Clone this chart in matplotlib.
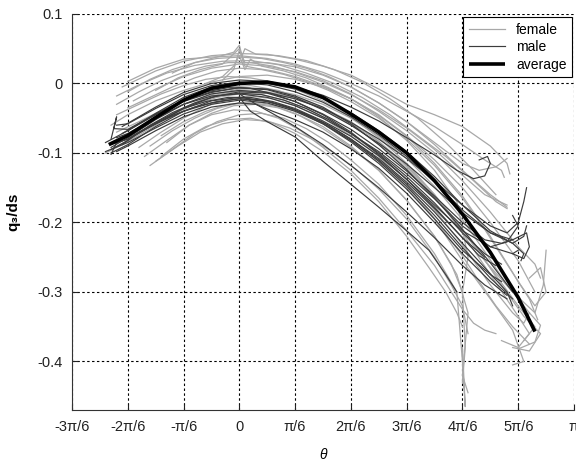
import matplotlib.pyplot as plt
import numpy as np

plt.rcParams['font.family'] = ['Liberation Sans', 'DejaVu Sans']

avg_theta = [-2.34, -2.0, -1.5, -1.0, -0.5, 0.0, 0.5, 1.0, 1.5, 2.0, 2.5, 3.0, 3.5, 4.0, 4.5, 5.0, 5.3]
avg_q = [-0.088, -0.075, -0.049, -0.024, -0.007, 0.000, 0.002, -0.005, -0.020, -0.044,
         -0.070, -0.100, -0.140, -0.188, -0.243, -0.308, -0.357]

female_theta = [
    [-2.1, -1.5, -1.0, -0.5, 0.0, 0.5, 1.0, 1.5, 2.0, 2.5, 3.0, 3.5, 4.0, 4.5, 4.8, 4.85],
    [-2.0, -1.5, -1.0, -0.5, 0.0, 0.5, 1.0, 1.5, 2.0, 2.5, 3.0, 3.5, 4.0, 4.4, 4.7, 4.75],
    [-2.2, -1.8, -1.3, -0.8, -0.3, 0.2, 0.7, 1.2, 1.7, 2.2, 2.7, 3.2, 3.7, 4.2, 4.6, 4.8],
    [-1.9, -1.5, -1.0, -0.5, 0.0, 0.5, 1.0, 1.5, 2.0, 2.5, 3.0, 3.5, 4.0, 4.5, 5.0, 5.3, 5.4],
    [-1.2, -0.8, -0.4, -0.1, 0.0, 0.05, 0.1, 0.3, 0.7, 1.2, 1.7, 2.2, 2.7, 3.2, 3.7, 4.2, 4.6],
    [-2.3, -2.0, -1.5, -1.0, -0.5, 0.0, 0.5, 1.0, 1.5, 2.0, 2.5, 3.0, 3.5, 4.0, 4.5, 5.0, 5.3, 5.1],
    [-2.2, -1.8, -1.3, -0.8, -0.3, 0.2, 0.7, 1.2, 1.7, 2.2, 2.7, 3.2, 3.7, 4.2, 4.7, 5.1, 5.4, 5.2, 4.9],
    [-1.6, -1.2, -0.8, -0.4, 0.0, 0.4, 0.8, 1.2, 1.6, 2.0, 2.5, 3.0, 3.5, 3.9, 4.0, 4.05, 4.0],
    [-1.7, -1.3, -0.9, -0.5, -0.1, 0.3, 0.7, 1.1, 1.5, 2.0, 2.5, 3.0, 3.5, 3.9, 4.1, 4.0, 4.1],
    [-1.8, -1.4, -1.0, -0.6, -0.2, 0.2, 0.6, 1.0, 1.5, 2.0, 2.5, 3.0, 3.5, 4.0, 4.5, 4.9, 5.1, 4.9],
    [-2.3, -2.0, -1.5, -1.0, -0.5, 0.0, 0.5, 1.0, 1.5, 2.0, 2.5, 3.0, 3.5, 4.0, 4.5, 5.0, 5.3],
    [-2.4, -2.1, -1.6, -1.1, -0.6, -0.1, 0.4, 0.9, 1.4, 1.9, 2.4, 2.9, 3.4, 3.9, 4.4, 4.9, 5.3, 5.45, 5.5],
    [-1.3, -0.9, -0.5, -0.1, 0.3, 0.7, 1.1, 1.5, 2.0, 2.5, 3.0, 3.5, 3.8, 4.0, 4.2, 4.4, 4.6],
    [-1.5, -1.1, -0.7, -0.3, 0.0, 0.1, 0.5, 1.0, 1.5, 2.0, 2.5, 3.0, 3.5, 4.0, 4.3, 4.6, 4.8],
    [-2.2, -1.8, -1.4, -1.0, -0.6, -0.2, 0.2, 0.6, 1.0, 1.5, 2.0, 2.5, 3.0, 3.5, 4.0, 4.5, 5.0, 5.2, 5.0, 4.7],
    [-1.4, -1.0, -0.6, -0.2, 0.2, 0.6, 1.0, 1.5, 2.0, 2.5, 3.0, 3.4, 3.7, 3.9, 4.0],
    [-2.0, -1.6, -1.2, -0.8, -0.4, 0.0, 0.4, 0.8, 1.2, 1.6, 2.0, 2.5, 3.0, 3.5, 4.0, 4.4, 4.8, 5.2, 5.35],
    [-0.6, -0.3, -0.1, 0.0, 0.1, 0.2, 0.4, 0.8, 1.2, 1.6, 2.0, 2.5, 3.0, 3.5, 3.9, 4.1, 4.0],
    [-2.0, -1.6, -1.2, -0.8, -0.4, 0.0, 0.4, 0.8, 1.2, 1.6, 2.0, 2.5, 3.0, 3.5, 4.0, 4.5, 4.9, 5.1, 5.2],
    [-1.6, -1.2, -0.8, -0.4, 0.0, 0.4, 0.8, 1.2, 1.6, 2.0, 2.5, 3.0, 3.5, 4.0, 4.3, 4.6, 4.9, 5.2],
    [-2.2, -1.8, -1.4, -1.0, -0.6, -0.2, 0.2, 0.6, 1.0, 1.5, 2.0, 2.5, 3.0, 3.5, 4.0, 4.4, 4.8],
    [-1.4, -1.0, -0.6, -0.2, 0.2, 0.6, 1.0, 1.5, 2.0, 2.5, 3.0, 3.5, 3.8, 4.0, 4.05, 4.0],
    [-0.3, -0.1, 0.0, 0.1, 0.3, 0.6, 1.0, 1.5, 2.0, 2.5, 3.0, 3.5, 4.0, 4.5, 5.0, 5.3, 5.5, 5.4, 5.2],
    [-2.3, -2.0, -1.5, -1.0, -0.5, 0.0, 0.5, 1.0, 1.5, 2.0, 2.5, 3.0, 3.5, 4.0, 4.4, 4.8, 5.2, 5.4, 5.3, 5.0],
    [-1.5, -1.1, -0.7, -0.3, 0.1, 0.5, 0.9, 1.3, 1.7, 2.1, 2.5, 3.0, 3.5, 3.8, 4.0, 4.1],
    [-2.0, -1.6, -1.2, -0.8, -0.4, 0.0, 0.4, 0.8, 1.2, 1.6, 2.0, 2.5, 3.0, 3.5, 4.0, 4.5, 4.8],
]
female_q = [
    [-0.005, 0.018, 0.032, 0.040, 0.043, 0.042, 0.035, 0.025, 0.012, -0.008, -0.030, -0.045, -0.062, -0.090, -0.115, -0.130],
    [0.003, 0.022, 0.035, 0.038, 0.040, 0.036, 0.028, 0.016, 0.000, -0.018, -0.040, -0.062, -0.088, -0.110, -0.125, -0.135],
    [-0.018, -0.002, 0.015, 0.026, 0.032, 0.033, 0.027, 0.015, 0.000, -0.020, -0.045, -0.075, -0.105, -0.140, -0.170, -0.180],
    [-0.025, -0.008, 0.010, 0.022, 0.028, 0.025, 0.017, 0.004, -0.015, -0.040, -0.068, -0.100, -0.140, -0.185, -0.235, -0.260, -0.280],
    [0.015, 0.030, 0.038, 0.045, 0.055, 0.040, 0.050, 0.042, 0.040, 0.033, 0.020, 0.002, -0.022, -0.050, -0.085, -0.125, -0.160],
    [-0.095, -0.082, -0.058, -0.035, -0.018, -0.010, -0.012, -0.020, -0.035, -0.055, -0.083, -0.118, -0.160, -0.210, -0.265, -0.320, -0.350, -0.370],
    [-0.070, -0.055, -0.035, -0.018, -0.006, -0.003, -0.010, -0.025, -0.045, -0.070, -0.100, -0.138, -0.180, -0.230, -0.290, -0.335, -0.360, -0.385, -0.380],
    [-0.118, -0.095, -0.072, -0.055, -0.045, -0.043, -0.050, -0.065, -0.085, -0.110, -0.145, -0.190, -0.245, -0.300, -0.400, -0.465, -0.380],
    [-0.105, -0.082, -0.060, -0.043, -0.032, -0.030, -0.035, -0.047, -0.065, -0.092, -0.125, -0.168, -0.220, -0.275, -0.330, -0.420, -0.445],
    [-0.092, -0.070, -0.050, -0.033, -0.022, -0.018, -0.022, -0.032, -0.050, -0.075, -0.105, -0.145, -0.195, -0.255, -0.310, -0.355, -0.400, -0.405],
    [-0.060, -0.045, -0.025, -0.010, 0.002, 0.010, 0.012, 0.006, -0.005, -0.022, -0.045, -0.075, -0.110, -0.150, -0.200, -0.255, -0.300],
    [-0.100, -0.088, -0.065, -0.040, -0.022, -0.012, -0.012, -0.020, -0.033, -0.052, -0.078, -0.112, -0.152, -0.200, -0.255, -0.300, -0.330, -0.290, -0.240],
    [-0.085, -0.060, -0.045, -0.038, -0.040, -0.050, -0.068, -0.092, -0.125, -0.165, -0.212, -0.262, -0.300, -0.325, -0.345, -0.355, -0.360],
    [-0.010, 0.008, 0.020, 0.028, 0.050, 0.030, 0.030, 0.024, 0.012, -0.005, -0.028, -0.055, -0.085, -0.115, -0.125, -0.120, -0.108],
    [-0.045, -0.030, -0.015, -0.003, 0.006, 0.010, 0.008, 0.002, -0.008, -0.025, -0.048, -0.078, -0.115, -0.160, -0.215, -0.275, -0.335, -0.360, -0.380, -0.370],
    [-0.105, -0.080, -0.062, -0.052, -0.050, -0.057, -0.072, -0.098, -0.130, -0.170, -0.220, -0.265, -0.300, -0.330, -0.350],
    [-0.035, -0.020, -0.005, 0.008, 0.018, 0.022, 0.020, 0.013, 0.003, -0.010, -0.026, -0.050, -0.080, -0.118, -0.165, -0.210, -0.260, -0.310, -0.340],
    [0.000, 0.010, 0.025, 0.040, 0.020, 0.035, 0.025, 0.018, 0.008, -0.006, -0.022, -0.048, -0.082, -0.125, -0.170, -0.250, -0.300],
    [-0.078, -0.062, -0.045, -0.030, -0.020, -0.015, -0.016, -0.024, -0.036, -0.052, -0.072, -0.102, -0.138, -0.182, -0.232, -0.290, -0.330, -0.345, -0.330],
    [-0.090, -0.068, -0.050, -0.036, -0.028, -0.028, -0.034, -0.046, -0.062, -0.082, -0.112, -0.150, -0.195, -0.248, -0.285, -0.320, -0.350, -0.375],
    [-0.030, -0.012, 0.004, 0.016, 0.025, 0.030, 0.030, 0.025, 0.016, 0.002, -0.016, -0.038, -0.064, -0.095, -0.132, -0.160, -0.175],
    [-0.075, -0.055, -0.040, -0.030, -0.028, -0.032, -0.043, -0.062, -0.090, -0.125, -0.168, -0.220, -0.260, -0.300, -0.380, -0.430],
    [0.005, 0.020, 0.048, 0.025, 0.022, 0.018, 0.010, -0.004, -0.022, -0.046, -0.076, -0.115, -0.162, -0.220, -0.285, -0.320, -0.300, -0.265, -0.280],
    [-0.085, -0.072, -0.050, -0.030, -0.016, -0.008, -0.008, -0.016, -0.030, -0.050, -0.076, -0.108, -0.148, -0.196, -0.242, -0.290, -0.330, -0.348, -0.372, -0.382],
    [-0.112, -0.090, -0.070, -0.058, -0.052, -0.054, -0.064, -0.080, -0.100, -0.124, -0.152, -0.195, -0.250, -0.290, -0.320, -0.360],
    [-0.012, 0.006, 0.020, 0.030, 0.036, 0.038, 0.036, 0.030, 0.022, 0.010, -0.005, -0.028, -0.055, -0.088, -0.125, -0.160, -0.178],
]

male_theta = [
    [-2.3, -2.0, -1.5, -1.0, -0.5, 0.0, 0.5, 1.0, 1.5, 2.0, 2.5, 3.0, 3.5, 4.0, 4.5, 4.8, 5.0, 5.1, 5.15],
    [-2.4, -2.0, -1.5, -1.0, -0.5, 0.0, 0.5, 1.0, 1.5, 2.0, 2.5, 3.0, 3.5, 4.0, 4.5, 4.9, 5.15, 5.2, 5.1, 4.9],
    [-2.1, -1.5, -1.0, -0.5, 0.0, 0.5, 1.0, 1.5, 2.0, 2.5, 3.0, 3.5, 3.9, 4.2, 4.4, 4.5, 4.45, 4.3],
    [-2.3, -2.0, -1.5, -1.0, -0.5, 0.0, 0.5, 1.0, 1.5, 2.0, 2.5, 3.0, 3.5, 4.0, 4.4, 4.8, 4.9],
    [0.0, 0.2, 0.5, 1.0, 1.5, 2.0, 2.5, 3.0, 3.4, 3.7, 3.9],
    [-2.2, -2.0, -1.5, -1.0, -0.5, 0.0, 0.5, 1.0, 1.5, 2.0, 2.5, 3.0, 3.5, 4.0, 4.5, 4.9, 5.0],
    [-2.3, -2.2, -2.25, -2.0, -1.5, -1.0, -0.5, 0.0, 0.5, 1.0, 1.5, 2.0, 2.5, 3.0, 3.5, 4.0, 4.5, 4.9],
    [-2.1, -1.8, -1.4, -1.0, -0.6, -0.2, 0.2, 0.6, 1.0, 1.5, 2.0, 2.5, 3.0, 3.5, 4.0, 4.4, 4.7, 4.9],
    [-2.2, -2.0, -1.5, -1.0, -0.5, 0.0, 0.3, 0.6, 1.0, 1.5, 2.0, 2.5, 3.0, 3.5, 4.0, 4.5, 4.8],
    [-2.0, -1.5, -1.0, -0.5, 0.0, 0.5, 1.0, 1.5, 2.0, 2.5, 3.0, 3.5, 4.0, 4.5, 4.9, 5.1, 5.05],
    [-2.3, -2.0, -1.5, -1.0, -0.5, 0.0, 0.5, 1.0, 1.5, 2.0, 2.5, 3.0, 3.5, 4.0, 4.3, 4.6],
    [-1.9, -1.5, -1.0, -0.5, 0.0, 0.5, 1.0, 1.5, 2.0, 2.5, 3.0, 3.5, 4.0, 4.5, 4.7],
    [-2.3, -2.0, -1.6, -1.2, -0.8, -0.4, 0.0, 0.4, 0.8, 1.2, 1.6, 2.0, 2.5, 3.0, 3.5, 4.0, 4.4, 4.7],
    [-2.2, -2.0, -1.5, -1.0, -0.5, 0.0, 0.5, 1.0, 1.5, 2.0, 2.5, 3.0, 3.5, 4.0, 4.5, 4.9, 5.1, 5.15],
    [-2.4, -2.0, -1.5, -1.0, -0.5, 0.0, 0.5, 1.0, 1.5, 2.0, 2.5, 3.0, 3.5, 4.0, 4.5, 4.9],
    [0.0, 0.3, 0.7, 1.0, 1.5, 2.0, 2.5, 3.0, 3.5, 4.0, 4.4, 4.8],
    [-2.1, -1.8, -1.4, -1.0, -0.6, -0.2, 0.2, 0.6, 1.0, 1.5, 2.0, 2.5, 3.0, 3.5, 4.0, 4.5, 4.8, 5.0, 4.9],
    [-2.3, -2.2, -2.0, -1.6, -1.2, -0.8, -0.4, 0.0, 0.4, 0.8, 1.2, 1.6, 2.0, 2.5, 3.0, 3.5, 4.0, 4.4],
]
male_q = [
    [-0.092, -0.078, -0.052, -0.030, -0.015, -0.010, -0.013, -0.022, -0.036, -0.056, -0.080, -0.108, -0.140, -0.175, -0.205, -0.215, -0.200, -0.170, -0.150],
    [-0.085, -0.068, -0.043, -0.020, -0.005, 0.001, -0.002, -0.012, -0.027, -0.048, -0.074, -0.105, -0.142, -0.182, -0.215, -0.225, -0.215, -0.235, -0.252, -0.245],
    [-0.062, -0.034, -0.013, 0.000, 0.005, 0.003, -0.005, -0.017, -0.034, -0.054, -0.078, -0.103, -0.125, -0.137, -0.133, -0.115, -0.105, -0.110],
    [-0.100, -0.088, -0.062, -0.040, -0.025, -0.020, -0.025, -0.038, -0.056, -0.080, -0.110, -0.145, -0.185, -0.230, -0.265, -0.300, -0.320],
    [-0.020, -0.040, -0.055, -0.077, -0.112, -0.145, -0.178, -0.212, -0.240, -0.275, -0.300],
    [-0.078, -0.072, -0.050, -0.030, -0.018, -0.015, -0.020, -0.032, -0.050, -0.072, -0.098, -0.130, -0.166, -0.205, -0.235, -0.245, -0.240],
    [-0.080, -0.048, -0.065, -0.066, -0.044, -0.026, -0.013, -0.006, -0.008, -0.018, -0.034, -0.058, -0.088, -0.124, -0.165, -0.210, -0.258, -0.300],
    [-0.072, -0.058, -0.040, -0.024, -0.012, -0.006, -0.007, -0.015, -0.026, -0.044, -0.066, -0.094, -0.126, -0.162, -0.200, -0.225, -0.230, -0.225],
    [-0.098, -0.090, -0.068, -0.048, -0.034, -0.028, -0.030, -0.040, -0.052, -0.070, -0.094, -0.122, -0.158, -0.200, -0.245, -0.285, -0.305],
    [-0.068, -0.045, -0.025, -0.012, -0.006, -0.009, -0.020, -0.038, -0.060, -0.086, -0.116, -0.150, -0.186, -0.215, -0.230, -0.245, -0.255],
    [-0.088, -0.080, -0.058, -0.036, -0.020, -0.012, -0.014, -0.026, -0.045, -0.070, -0.102, -0.138, -0.178, -0.222, -0.248, -0.262],
    [-0.075, -0.058, -0.040, -0.028, -0.022, -0.026, -0.038, -0.058, -0.084, -0.115, -0.152, -0.195, -0.240, -0.275, -0.285],
    [-0.095, -0.082, -0.060, -0.042, -0.028, -0.018, -0.014, -0.016, -0.024, -0.036, -0.052, -0.072, -0.100, -0.134, -0.172, -0.215, -0.245, -0.260],
    [-0.060, -0.058, -0.036, -0.016, -0.003, 0.002, 0.000, -0.008, -0.022, -0.042, -0.068, -0.098, -0.134, -0.175, -0.212, -0.230, -0.220, -0.205],
    [-0.098, -0.085, -0.064, -0.044, -0.030, -0.024, -0.028, -0.040, -0.058, -0.082, -0.112, -0.148, -0.190, -0.236, -0.280, -0.310],
    [-0.015, -0.030, -0.048, -0.062, -0.088, -0.118, -0.150, -0.185, -0.222, -0.262, -0.290, -0.310],
    [-0.088, -0.070, -0.052, -0.036, -0.026, -0.020, -0.020, -0.026, -0.036, -0.054, -0.076, -0.104, -0.138, -0.175, -0.212, -0.235, -0.228, -0.205, -0.190],
    [-0.102, -0.085, -0.080, -0.062, -0.046, -0.034, -0.026, -0.022, -0.024, -0.032, -0.044, -0.060, -0.080, -0.108, -0.142, -0.180, -0.222, -0.250],
]

xtick_units = [-3, -2, -1, 0, 1, 2, 3, 4, 5, 6]
xtick_labels = ['-3\u03c0/6', '-2\u03c0/6', '-\u03c0/6', '0', '\u03c0/6', '2\u03c0/6',
                '3\u03c0/6', '4\u03c0/6', '5\u03c0/6', '\u03c0']
yticks = [-0.4, -0.3, -0.2, -0.1, 0.0, 0.1]
ytick_labels = ['-0.4', '-0.3', '-0.2', '-0.1', '0', '0.1']

unit = np.pi / 6

fig = plt.figure(figsize=(5.76, 4.66), dpi=100)
ax = fig.add_axes([0.125, 0.120, 0.8715, 0.850])

for th, q in zip(female_theta, female_q):
    lf, = ax.plot(np.array(th) * unit, q, color='#a8a8a8', lw=0.9)
for th, q in zip(male_theta, male_q):
    lm, = ax.plot(np.array(th) * unit, q, color='#3c3c3c', lw=0.85)
la, = ax.plot(np.array(avg_theta) * unit, avg_q, color='black', lw=2.6, solid_capstyle='butt')

ax.set_xlim(-3 * unit, 6 * unit)
ax.set_ylim(-0.47, 0.1)
ax.set_xticks(np.array(xtick_units) * unit)
ax.set_xticklabels(xtick_labels)
ax.set_yticks(yticks)
ax.set_yticklabels(ytick_labels)

ax.spines['top'].set_visible(False)
ax.spines['right'].set_visible(False)
ax.spines['left'].set_color('#333333')
ax.spines['bottom'].set_color('#333333')
ax.grid(True, color='black', linestyle=(0, (2.2, 2.2)), lw=0.8)
ax.set_axisbelow(True)
ax.tick_params(direction='in', length=4, labelsize=10.5, colors='#222222', pad=7)

ax.set_xlabel('\u03b8', fontstyle='italic', fontsize=10, labelpad=10)
ax.set_ylabel('q\u2083/ds', fontsize=11, fontweight='bold', labelpad=12)

leg = ax.legend([lf, lm, la], ['female', 'male', 'average'], loc='upper right',
                bbox_to_anchor=(0.996, 0.992), borderaxespad=0, fancybox=False,
                framealpha=1, edgecolor='black', fontsize=10, handlelength=2.6,
                labelspacing=0.25, borderpad=0.4)
leg.get_frame().set_linewidth(0.8)

fig.savefig('out.png', dpi=100)
